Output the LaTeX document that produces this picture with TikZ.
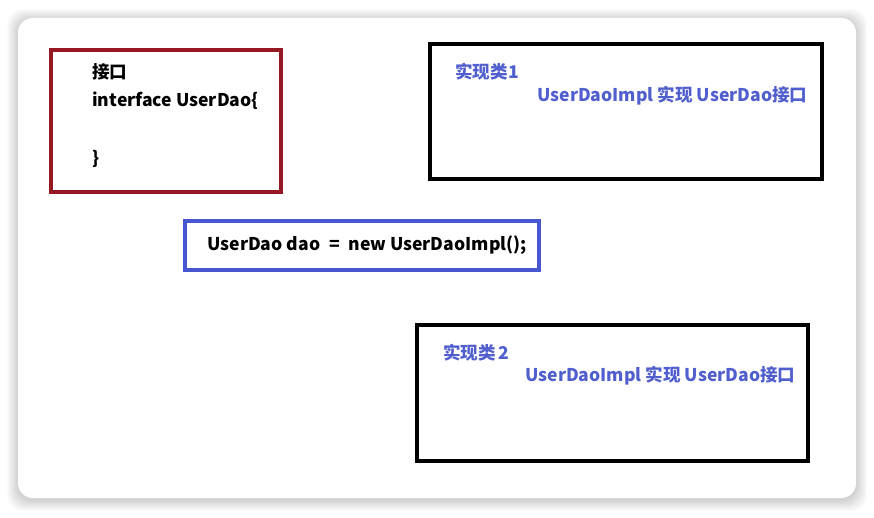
\documentclass[tikz,border=0pt]{standalone}
\usepackage{fontspec}
\setmainfont{Noto Sans CJK SC}
\usepackage{tikz}
\usetikzlibrary{positioning}
\usetikzlibrary{fit}
\definecolor{ifacered}{RGB}{150,24,34}
\definecolor{codeblue}{RGB}{72,86,210}
\definecolor{implblue}{RGB}{80,94,206}
\tikzset{
    card/.style={fill=white, rounded corners=8.5pt},
    cardshadow/.style={fill=black, fill opacity=0.016, rounded corners=9pt},
    ifacebox/.style={draw=ifacered, line width=2.1pt, inner sep=0pt},
    implbox/.style={draw=black, line width=1.9pt, inner sep=0pt},
    codebox/.style={draw=codeblue, line width=2.1pt, inner sep=0pt},
    codetext/.style={font=\fontsize{10}{12}\selectfont\bfseries, text=black, anchor=west, inner sep=0pt},
    impltext/.style={font=\fontsize{10}{12}\selectfont\bfseries, text=implblue, anchor=west, inner sep=0pt}
}
\begin{document}
\begin{tikzpicture}[x=0.02cm,y=-0.02cm]
	\useasboundingbox (0,0) rectangle (874,517);
	\fill[white] (0,0) rectangle (874,517);
	% shadow round the card
	\foreach \s in {1,...,11}
		\fill[cardshadow] (18-\s,18-\s+2) rectangle (856+\s,498+\s+2);
	\fill[card] (18,18) rectangle (856,498);
	% interface box
	\node[ifacebox, fit={(51,50) (281,192)}] (iface) {};
	\node[codetext] (ifacename) at (92,72) {接口};
	\node[codetext] (ifacehead) at (92,101) {interface UserDao\{};
	\node[codetext] (ifaceend) at (92,159) {\}};
	% implementation 1
	\node[implbox, fit={(430,44) (822,179)}] (implone) {};
	\node[impltext] (implonename) at (455,72) {实现类1};
	\node[impltext] (implonedesc) at (537,96) {UserDaoImpl 实现 UserDao接口};
	% the statement
	\node[codebox, fit={(185,221) (539,270)}] (decl) {};
	\node[codetext] (decltext) at (207,245) {UserDao dao\enspace=\enspace new UserDaoImpl();};
	% implementation 2
	\node[implbox, fit={(417,325) (808,461)}] (impltwo) {};
	\node[impltext] (impltwoname) at (443,353) {实现类\,2};
	\node[impltext] (impltwodesc) at (525,376) {UserDaoImpl 实现 UserDao接口};
\end{tikzpicture}
\end{document}
